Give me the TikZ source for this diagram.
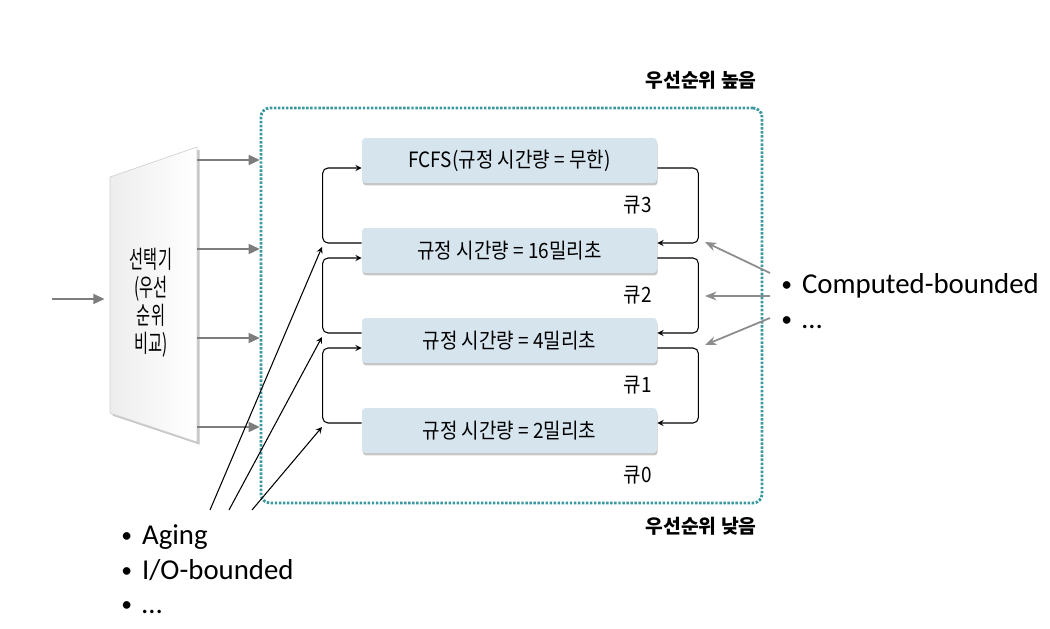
\documentclass[tikz,border=0pt]{standalone}
\usepackage{fontspec}
\setmainfont{Noto Sans CJK KR}
\newfontfamily\calib{Carlito}
\newfontfamily\selfont[FakeStretch=0.62]{Noto Sans CJK KR}
\newfontfamily\qfont[FakeStretch=0.9]{Noto Sans CJK KR}
\usetikzlibrary{arrows,arrows.meta,shadows,positioning}
\definecolor{qfill}{RGB}{214,228,238}
\definecolor{frameteal}{RGB}{58,152,158}
\definecolor{boostgray}{RGB}{125,125,125}
\definecolor{hintgray}{RGB}{140,140,140}
\tikzset{
  qbox/.style={fill=qfill, rounded corners=2pt, minimum width=5.9cm, minimum height=0.9cm,
    inner sep=0pt, font=\qfont\fontsize{12}{14}\selectfont,
    drop shadow={shadow xshift=0.4pt, shadow yshift=-1.4pt, opacity=0.45}},
  qtag/.style={inner sep=0pt, font=\qfont\fontsize{12}{14}\selectfont},
  relink/.style={-stealth, line width=0.6pt, rounded corners=3pt},
  boost/.style={-{Triangle[length=6.5pt,width=5.5pt]}, draw=boostgray, line width=1.5pt},
  hint/.style={-{Stealth[length=6.5pt,width=5pt]}, draw=hintgray, line width=1pt},
  aging/.style={-stealth, line width=0.6pt},
  prio/.style={inner sep=0pt, font=\bfseries\fontsize{11}{13}\selectfont},
  bullettext/.style={inner sep=0pt, anchor=base west, font=\calib\fontsize{16.4}{19}\selectfont}
}
\newcommand{\bul}{\makebox[0.72em][l]{\raisebox{0.06em}{\scalebox{0.75}{•}}}}

\begin{document}
\begin{tikzpicture}[x=0.02cm,y=-0.02cm]
\useasboundingbox (0,0) rectangle (1050,628);

\coordinate (s1) at (110,177);
\coordinate (s2) at (197,147);
\coordinate (s3) at (197,442);
\coordinate (s4) at (110,413);
\fill[gray!45] ([xshift=1.5pt,yshift=-1.5pt]s1) -- ([xshift=1.5pt,yshift=-1.5pt]s2) -- ([xshift=1.5pt,yshift=-1.5pt]s3) -- ([xshift=1.5pt,yshift=-1.5pt]s4) -- cycle;
\draw[gray!35, left color=gray!14, right color=white] (s1) -- (s2) -- (s3) -- (s4) -- cycle;
\node[align=center, inner sep=0pt, font=\selfont\fontsize{14}{16}\selectfont] (sel) at (151,303) {선택기\\(우선\\순위\\비교)};

\coordinate (entry) at (52,299);
\draw[boost, shorten >=3pt] (entry) -- (entry -| s1);

\node[draw=frameteal, line width=1.6pt, dash pattern=on 1.4pt off 0.9pt, rounded corners=5pt,
  minimum width=10.02cm, minimum height=7.9cm] (frame) at (511.5,305.5) {};

\foreach \y [count=\k] in {160,249,338,427} {
  \coordinate (in\k) at (260,\y);
  \draw[boost] (s2 |- in\k) -- (in\k);
}

\node[prio, anchor=east] (high) at (757,80) {우선순위 높음};
\node[prio, anchor=east] (low) at (757,526) {우선순위 낮음};

\foreach \i/\y/\txt in {3/160.5/{FCFS(규정 시간량 = 무한)}, 2/250.5/{규정 시간량 = 16밀리초},
                        1/340.5/{규정 시간량 = 4밀리초}, 0/430.5/{규정 시간량 = 2밀리초}} {
  \node[qbox] (q\i) at (509.5,\y) {\txt};
  \node[qtag, anchor=east] (l\i) at ([xshift=-0.1cm,yshift=-0.44cm]q\i.south east) {큐\i};
}

\foreach \i/\j in {2/3,1/2,0/1} {
  \draw[relink] ([yshift=.15cm]q\i.west) -- ++(-39,0) |- ([yshift=-.15cm]q\j.west);
  \draw[relink] ([yshift=-.15cm]q\j.east) -- ++(41,0) |- ([yshift=.15cm]q\i.east);
}

\foreach \k/\ys/\ye in {1/273/242, 2/296/296, 3/318/345} {
  \coordinate (h\k) at (770,\ys);
  \coordinate (t\k) at (705,\ye);
  \draw[hint] (h\k) -- (t\k);
}

\foreach \k/\xs/\ye in {1/210/247, 2/229/337, 3/252/427} {
  \coordinate (a\k) at (\xs,510);
  \coordinate (g\k) at (322,\ye);
  \draw[aging] (a\k) -- (g\k);
}

\node[bullettext] (cpu) at (781,293) {\bul Computed-bounded};
\node[bullettext] (cpumore) at (781,328) {\bul …};
\node[bullettext] (age) at (121,544) {\bul Aging};
\node[bullettext] (io) at (121,579) {\bul I/O-bounded};
\node[bullettext] (iomore) at (121,613) {\bul …};
\end{tikzpicture}
\end{document}
